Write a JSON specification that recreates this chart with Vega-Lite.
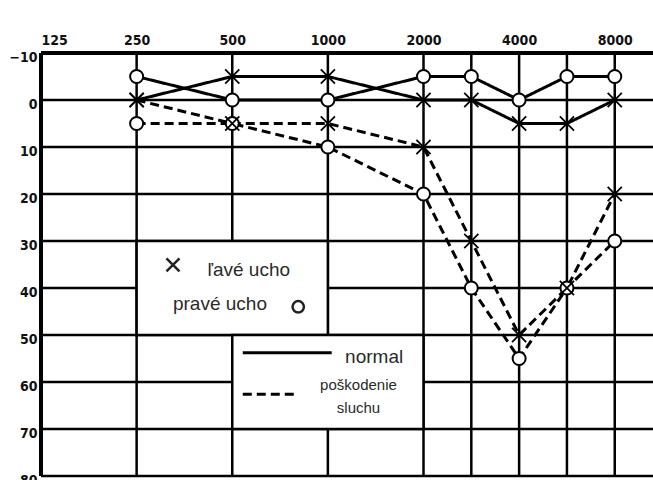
{
  "$schema": "https://vega.github.io/schema/vega-lite/v6.json",
  "width": 612,
  "height": 423,
  "autosize": "none",
  "padding": {"left": 41, "top": 53, "right": 0, "bottom": 4},
  "background": "white",
  "config": {"view": {"stroke": null}},
  "datasets": {
    "gridv": [{"x": 0}, {"x": 1}, {"x": 2}, {"x": 3}, {"x": 4}, {"x": 4.5}, {"x": 5}, {"x": 5.5}, {"x": 6}],
    "gridh": [{"y": -10}, {"y": 0}, {"y": 10}, {"y": 20}, {"y": 30}, {"y": 40}, {"y": 50}, {"y": 60}, {"y": 70}, {"y": 80}],
    "boxes": [{"x1": 1, "x2": 3, "y1": 30, "y2": 50}, {"x1": 2, "x2": 4, "y1": 50, "y2": 70}],
    "series": [
      {"freq": 250, "xi": 1, "db": 0, "ear": "left", "cond": "normal"},
      {"freq": 500, "xi": 2, "db": -5, "ear": "left", "cond": "normal"},
      {"freq": 1000, "xi": 3, "db": -5, "ear": "left", "cond": "normal"},
      {"freq": 2000, "xi": 4, "db": 0, "ear": "left", "cond": "normal"},
      {"freq": 3000, "xi": 4.5, "db": 0, "ear": "left", "cond": "normal"},
      {"freq": 4000, "xi": 5, "db": 5, "ear": "left", "cond": "normal"},
      {"freq": 6000, "xi": 5.5, "db": 5, "ear": "left", "cond": "normal"},
      {"freq": 8000, "xi": 6, "db": 0, "ear": "left", "cond": "normal"},
      {"freq": 250, "xi": 1, "db": -5, "ear": "right", "cond": "normal"},
      {"freq": 500, "xi": 2, "db": 0, "ear": "right", "cond": "normal"},
      {"freq": 1000, "xi": 3, "db": 0, "ear": "right", "cond": "normal"},
      {"freq": 2000, "xi": 4, "db": -5, "ear": "right", "cond": "normal"},
      {"freq": 3000, "xi": 4.5, "db": -5, "ear": "right", "cond": "normal"},
      {"freq": 4000, "xi": 5, "db": 0, "ear": "right", "cond": "normal"},
      {"freq": 6000, "xi": 5.5, "db": -5, "ear": "right", "cond": "normal"},
      {"freq": 8000, "xi": 6, "db": -5, "ear": "right", "cond": "normal"},
      {"freq": 250, "xi": 1, "db": 0, "ear": "left", "cond": "poškodenie"},
      {"freq": 500, "xi": 2, "db": 5, "ear": "left", "cond": "poškodenie"},
      {"freq": 1000, "xi": 3, "db": 5, "ear": "left", "cond": "poškodenie"},
      {"freq": 2000, "xi": 4, "db": 10, "ear": "left", "cond": "poškodenie"},
      {"freq": 3000, "xi": 4.5, "db": 30, "ear": "left", "cond": "poškodenie"},
      {"freq": 4000, "xi": 5, "db": 50, "ear": "left", "cond": "poškodenie"},
      {"freq": 6000, "xi": 5.5, "db": 40, "ear": "left", "cond": "poškodenie"},
      {"freq": 8000, "xi": 6, "db": 20, "ear": "left", "cond": "poškodenie"},
      {"freq": 250, "xi": 1, "db": 5, "ear": "right", "cond": "poškodenie"},
      {"freq": 500, "xi": 2, "db": 5, "ear": "right", "cond": "poškodenie"},
      {"freq": 1000, "xi": 3, "db": 10, "ear": "right", "cond": "poškodenie"},
      {"freq": 2000, "xi": 4, "db": 20, "ear": "right", "cond": "poškodenie"},
      {"freq": 3000, "xi": 4.5, "db": 40, "ear": "right", "cond": "poškodenie"},
      {"freq": 4000, "xi": 5, "db": 55, "ear": "right", "cond": "poškodenie"},
      {"freq": 6000, "xi": 5.5, "db": 40, "ear": "right", "cond": "poškodenie"},
      {"freq": 8000, "xi": 6, "db": 30, "ear": "right", "cond": "poškodenie"}
    ],
    "legsym": [{"x": 1.38, "y": 35.1, "ear": "left"}, {"x": 2.69, "y": 44.0, "ear": "right"}],
    "legbig": [
      {"x": 1.74, "y": 36.2, "label": "ľavé ucho"},
      {"x": 1.38, "y": 43.4, "label": "pravé ucho"},
      {"x": 3.18, "y": 54.7, "label": "normal"}
    ],
    "legsmall": [
      {"x": 3.32, "y": 60.6, "label": "poškodenie"},
      {"x": 3.32, "y": 65.5, "label": "sluchu"}
    ],
    "leglines": [
      {"x": 2.11, "x2": 3.04, "y": 53.8, "cond": "normal"},
      {"x": 2.11, "x2": 2.66, "y": 62.6, "cond": "poškodenie"}
    ]
  },
  "layer": [
    {
      "data": {"name": "gridv"},
      "mark": {"type": "rule", "color": "black", "strokeWidth": 2.5},
      "encoding": {
        "x": {
          "field": "x", "type": "quantitative",
          "scale": {"domain": [0, 6.4], "nice": false, "zero": false},
          "axis": {
            "orient": "top", "values": [0, 1, 2, 3, 4, 5, 6],
            "labelExpr": "['125','250','500','1000','2000','4000','8000'][datum.value]",
            "domain": false, "ticks": false, "grid": false, "title": null,
            "labelPadding": 6, "labelFont": "DejaVu Sans Condensed", "labelFontWeight": "bold",
            "labelFontSize": 14, "labelColor": "#111"
          }
        }
      }
    },
    {
      "data": {"name": "gridh"},
      "mark": {"type": "rule", "color": "black", "strokeWidth": 2.5},
      "encoding": {
        "y": {
          "field": "y", "type": "quantitative",
          "scale": {"domain": [-10, 80], "reverse": true, "nice": false, "zero": false},
          "axis": {
            "values": [-10, 0, 10, 20, 30, 40, 50, 60, 70, 80],
            "domain": false, "ticks": false, "grid": false, "title": null,
            "labelPadding": 4, "labelOffset": 4, "labelFont": "DejaVu Sans Condensed", "labelFontWeight": "bold",
            "labelFontSize": 14, "labelColor": "#111"
          }
        }
      }
    },
    {
      "data": {"name": "gridv"},
      "transform": [{"filter": "datum.x == 0"}],
      "mark": {"type": "rule", "color": "black", "strokeWidth": 4},
      "encoding": {"x": {"field": "x", "type": "quantitative"}}
    },
    {
      "data": {"name": "gridh"},
      "transform": [{"filter": "datum.y == -10"}],
      "mark": {"type": "rule", "color": "black", "strokeWidth": 4},
      "encoding": {"y": {"field": "y", "type": "quantitative"}}
    },
    {
      "data": {"name": "boxes"},
      "mark": {"type": "rect", "fill": "white", "stroke": "black", "strokeWidth": 2.5},
      "encoding": {
        "x": {"field": "x1", "type": "quantitative"},
        "x2": {"field": "x2"},
        "y": {"field": "y1", "type": "quantitative"},
        "y2": {"field": "y2"}
      }
    },
    {
      "data": {"name": "series"},
      "mark": {"type": "line", "color": "black", "strokeWidth": 3},
      "encoding": {
        "x": {"field": "xi", "type": "quantitative"},
        "y": {"field": "db", "type": "quantitative"},
        "detail": {"field": "ear"},
        "strokeDash": {"field": "cond", "type": "nominal", "scale": {"domain": ["normal", "poškodenie"], "range": [[1, 0], [9, 5]]}, "legend": null},
        "order": {"field": "xi", "type": "quantitative"}
      }
    },
    {
      "data": {"name": "series"},
      "transform": [{"filter": "datum.ear == 'right'"}],
      "mark": {"type": "point", "shape": "circle", "filled": true, "fill": "white", "stroke": "black", "strokeWidth": 2, "size": 170, "opacity": 1},
      "encoding": {
        "x": {"field": "xi", "type": "quantitative"},
        "y": {"field": "db", "type": "quantitative"}
      }
    },
    {
      "data": {"name": "series"},
      "transform": [{"filter": "datum.ear == 'left'"}],
      "mark": {"type": "point", "shape": "M-1,-1L1,1M-1,1L1,-1", "filled": false, "stroke": "black", "strokeWidth": 1.8, "size": 200, "opacity": 1},
      "encoding": {
        "x": {"field": "xi", "type": "quantitative"},
        "y": {"field": "db", "type": "quantitative"}
      }
    },
    {
      "data": {"name": "leglines"},
      "mark": {"type": "rule", "color": "black", "strokeWidth": 3},
      "encoding": {
        "x": {"field": "x", "type": "quantitative"},
        "x2": {"field": "x2"},
        "y": {"field": "y", "type": "quantitative"},
        "strokeDash": {"field": "cond", "type": "nominal", "scale": {"domain": ["normal", "poškodenie"], "range": [[1, 0], [11, 4]]}, "legend": null}
      }
    },
    {
      "data": {"name": "legsym"},
      "transform": [{"filter": "datum.ear == 'left'"}],
      "mark": {"type": "point", "shape": "M-1,-1L1,1M-1,1L1,-1", "filled": false, "stroke": "#222", "strokeWidth": 2.5, "size": 170, "opacity": 1},
      "encoding": {
        "x": {"field": "x", "type": "quantitative"},
        "y": {"field": "y", "type": "quantitative"}
      }
    },
    {
      "data": {"name": "legsym"},
      "transform": [{"filter": "datum.ear == 'right'"}],
      "mark": {"type": "point", "shape": "circle", "filled": false, "stroke": "#222", "strokeWidth": 2.5, "size": 130, "opacity": 1},
      "encoding": {
        "x": {"field": "x", "type": "quantitative"},
        "y": {"field": "y", "type": "quantitative"}
      }
    },
    {
      "data": {"name": "legbig"},
      "mark": {"type": "text", "align": "left", "baseline": "middle", "font": "Liberation Sans", "fontSize": 19, "color": "#2a2a2a"},
      "encoding": {
        "x": {"field": "x", "type": "quantitative"},
        "y": {"field": "y", "type": "quantitative"},
        "text": {"field": "label"}
      }
    },
    {
      "data": {"name": "legsmall"},
      "mark": {"type": "text", "align": "center", "baseline": "middle", "font": "Liberation Sans", "fontSize": 15, "color": "#2a2a2a"},
      "encoding": {
        "x": {"field": "x", "type": "quantitative"},
        "y": {"field": "y", "type": "quantitative"},
        "text": {"field": "label"}
      }
    }
  ]
}
